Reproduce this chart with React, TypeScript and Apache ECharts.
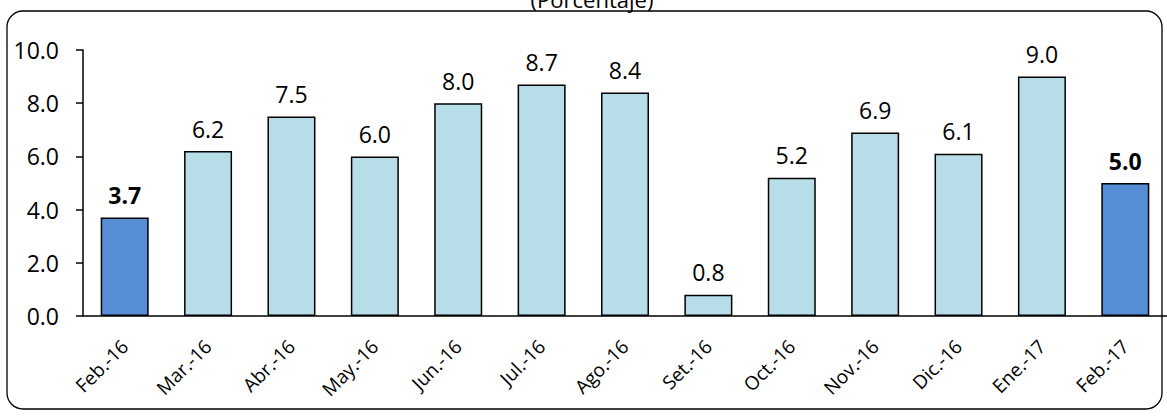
import React, { useEffect, useRef } from "react";
import * as echarts from "echarts";

const categories = ["Feb.-16", "Mar.-16", "Abr.-16", "May.-16", "Jun.-16", "Jul.-16", "Ago.-16", "Set.-16", "Oct.-16", "Nov.-16", "Dic.-16", "Ene.-17", "Feb.-17"];
const values = [3.7, 6.2, 7.5, 6.0, 8.0, 8.7, 8.4, 0.8, 5.2, 6.9, 6.1, 9.0, 5.0];
const highlighted = ["Feb.-16", "Feb.-17"];
const yTicks = [0, 2, 4, 6, 8, 10];
const subtitle = "(Porcentaje)";

const FONT = "'Open Sans', 'Noto Sans', sans-serif";

export default function App() {
  const ref = useRef<HTMLDivElement>(null);
  useEffect(() => {
    if (!ref.current) return;
    const chart = echarts.init(ref.current, null, { renderer: "svg" });
    const data = values.map((v, i) => {
      const hl = highlighted.includes(categories[i]);
      return {
        value: v,
        itemStyle: { color: hl ? "#558ED5" : "#B7DDE8" },
        label: { fontWeight: hl ? "bold" : "normal" },
      };
    });
    chart.setOption({
      animation: false,
      backgroundColor: "#ffffff",
      textStyle: { fontFamily: FONT },
      graphic: [
        {
          type: "rect",
          shape: { x: 7, y: 11, width: 1155, height: 398, r: 16 },
          style: { fill: "none", stroke: "#000", lineWidth: 1.3 },
          z: 0,
        },
        {
          type: "text",
          x: 592,
          y: -1,
          style: {
            text: subtitle,
            fontFamily: FONT,
            fontSize: 22,
            fill: "#000",
            textAlign: "center",
            textVerticalAlign: "middle",
          },
        },
      ],
      grid: { left: 83, top: 50, height: 266, width: 1085.5, containLabel: false },
      xAxis: {
        type: "category",
        data: categories,
        boundaryGap: true,
        axisLine: { lineStyle: { color: "#000", width: 1.5 } },
        axisTick: { show: false },
        axisLabel: {
          rotate: 45,
          margin: 27,
          color: "#000",
          fontSize: 19,
          fontFamily: FONT,
          interval: 0,
        },
      },
      yAxis: {
        type: "value",
        min: yTicks[0],
        max: yTicks[yTicks.length - 1],
        interval: 2,
        splitLine: { show: false },
        axisLine: { show: true, lineStyle: { color: "#000", width: 1.5 } },
        axisTick: { show: true, length: 7, lineStyle: { color: "#000", width: 1.5 } },
        axisLabel: {
          color: "#000",
          fontSize: 23,
          fontFamily: FONT,
          margin: 24,
          formatter: (v: number) => v.toFixed(1),
        },
      },
      series: [
        {
          type: "bar",
          data,
          barWidth: 48,
          itemStyle: { borderColor: "#000", borderWidth: 1.5 },
          label: {
            show: true,
            position: "top",
            distance: 11,
            color: "#000",
            fontSize: 23,
            fontFamily: FONT,
            formatter: (p: any) => Number(p.value).toFixed(1),
          },
        },
      ],
    });
    return () => chart.dispose();
  }, []);
  return (
    <div
      ref={ref}
      style={{ position: "fixed", left: 0, top: 0, width: 1167, height: 417 }}
    />
  );
}
